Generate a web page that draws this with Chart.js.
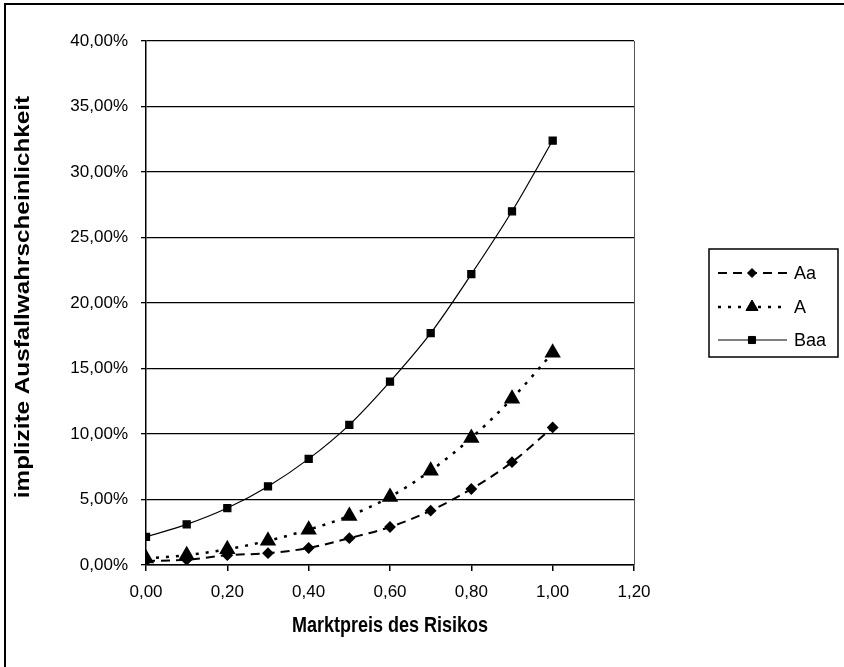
<!DOCTYPE html>
<html lang="de">
<head>
    <meta charset="UTF-8">
    <title>Implizite Ausfallwahrscheinlichkeit</title>
    <script src="https://cdn.jsdelivr.net/npm/chart.js"></script>
    <style>
        html, body { margin: 0; padding: 0; background: #fff; }
        #wrap { width: 844px; height: 667px; }
    </style>
</head>
<body>
<div id="wrap"><canvas id="chart" width="844" height="667"></canvas></div>
<script>
    // Marktpreis des Risikos (x) and implied default probability in % (y)
    var marketPrice = [0, 0.1, 0.2, 0.3, 0.4, 0.5, 0.6, 0.7, 0.8, 0.9, 1.0];
    var seriesNames = ['Aa', 'A', 'Baa'];
    var aaValues  = [0.30, 0.40, 0.75, 0.90, 1.30, 2.05, 2.90, 4.15, 5.80, 7.85, 10.50];
    var aValues   = [0.50, 0.75, 1.20, 1.85, 2.70, 3.75, 5.20, 7.20, 9.70, 12.70, 16.20];
    var baaValues = [2.15, 3.10, 4.35, 6.00, 8.10, 10.70, 14.00, 17.70, 22.20, 27.00, 32.40];
    var xTickLabels = ['0,00', '0,20', '0,40', '0,60', '0,80', '1,00', '1,20'];
    var yTickLabels = ['0,00%', '5,00%', '10,00%', '15,00%', '20,00%', '25,00%', '30,00%', '35,00%', '40,00%'];
    var xTitle = 'Marktpreis des Risikos';
    var yTitle = 'implizite Ausfallwahrscheinlichkeit';

    var FONT = "'Liberation Sans', Arial, sans-serif";

    function points(values) {
        return marketPrice.map(function (x, i) { return { x: x, y: values[i] }; });
    }

    // frame, axis titles and the boxed legend, as Excel drew them
    var excelLook = {
        id: 'excelLook',
        beforeDraw: function (chart) {
            var ctx = chart.ctx;
            ctx.save();
            ctx.fillStyle = '#fff';
            ctx.fillRect(0, 0, chart.width, chart.height);
            ctx.strokeStyle = '#000';
            ctx.lineWidth = 2;
            ctx.strokeRect(5, 4, chart.width + 20, chart.height + 20);
            ctx.restore();
        },
        afterDraw: function (chart) {
            var ctx = chart.ctx;
            var area = chart.chartArea;
            ctx.save();

            // right edge of the plot area
            ctx.strokeStyle = '#555';
            ctx.lineWidth = 1;
            ctx.beginPath();
            ctx.moveTo(area.right + 0.5, area.top);
            ctx.lineTo(area.right + 0.5, area.bottom);
            ctx.stroke();

            // axis titles (slightly stretched like the scanned original)
            ctx.fillStyle = '#000';
            ctx.font = 'bold 18px ' + FONT;
            ctx.textAlign = 'center';
            ctx.textBaseline = 'middle';

            ctx.save();
            ctx.translate((area.left + area.right) / 2, 626);
            ctx.scale(1, 1.25);
            ctx.fillText(xTitle, 0, 0);
            ctx.restore();

            ctx.save();
            ctx.translate(24, (area.top + area.bottom) / 2 - 6);
            ctx.rotate(-Math.PI / 2);
            ctx.scale(1.35, 1.1);
            ctx.fillText(yTitle, 0, 0);
            ctx.restore();

            // legend box
            var bx = 709, by = 249, bw = 129, bh = 108;
            ctx.strokeStyle = '#000';
            ctx.lineWidth = 1.5;
            ctx.strokeRect(bx, by, bw, bh);
            var rows = [273, 307, 340];
            chart.data.datasets.forEach(function (ds, i) {
                var y = rows[i];
                ctx.save();
                ctx.strokeStyle = ds.borderColor;
                ctx.lineWidth = ds.borderWidth;
                ctx.setLineDash(ds.borderDash || []);
                ctx.beginPath();
                ctx.moveTo(718, y);
                ctx.lineTo(787, y);
                ctx.stroke();
                ctx.restore();
                ctx.save();
                ctx.fillStyle = ds.pointBackgroundColor;
                ctx.strokeStyle = ds.pointBorderColor;
                ctx.lineWidth = 1;
                Chart.helpers.drawPoint(ctx, {
                    pointStyle: ds.pointStyle,
                    radius: ds.pointRadius,
                    rotation: 0,
                    borderWidth: 1
                }, 752, y);
                ctx.restore();
                ctx.fillStyle = '#000';
                ctx.font = '18px ' + FONT;
                ctx.textAlign = 'left';
                ctx.fillText(ds.label, 794, y + 1);
            });
            ctx.restore();
        }
    };

    var ctx = document.getElementById('chart').getContext('2d');
    var myChart = new Chart(ctx, {
        type: 'line',
        data: {
            datasets: [{
                label: seriesNames[0],
                data: points(aaValues),
                borderColor: '#000',
                borderWidth: 2,
                borderDash: [9, 6],
                pointStyle: 'rectRot',
                pointRadius: 4.5,
                pointBackgroundColor: '#000',
                pointBorderColor: '#000',
                cubicInterpolationMode: 'monotone'
            }, {
                label: seriesNames[1],
                data: points(aValues),
                borderColor: '#000',
                borderWidth: 2.5,
                borderDash: [3, 7],
                pointStyle: 'triangle',
                pointRadius: 7,
                pointBackgroundColor: '#000',
                pointBorderColor: '#000',
                cubicInterpolationMode: 'monotone'
            }, {
                label: seriesNames[2],
                data: points(baaValues),
                borderColor: '#000',
                borderWidth: 1.2,
                pointStyle: 'rect',
                pointRadius: 5,
                pointBackgroundColor: '#000',
                pointBorderColor: '#000',
                cubicInterpolationMode: 'monotone'
            }]
        },
        options: {
            responsive: false,
            animation: false,
            layout: { padding: { top: 41, right: 210, bottom: 0, left: 0 } },
            plugins: {
                legend: { display: false },
                tooltip: { enabled: false }
            },
            scales: {
                x: {
                    type: 'linear',
                    min: 0,
                    max: 1.2,
                    afterFit: function (scale) { scale.height = 102; },
                    afterBuildTicks: function (scale) {
                        scale.ticks = xTickLabels.map(function (t, i) { return { value: i * 0.2 }; });
                    },
                    ticks: {
                        padding: 11,
                        color: '#000',
                        font: { family: FONT, size: 17 },
                        maxRotation: 0,
                        callback: function (v, i) { return xTickLabels[i]; }
                    },
                    grid: {
                        drawOnChartArea: false,
                        drawTicks: true,
                        tickLength: 6,
                        color: '#000',
                        lineWidth: 1.5
                    },
                    border: { color: '#000', width: 1.5 }
                },
                y: {
                    min: 0,
                    max: 40,
                    afterFit: function (scale) { scale.width = 146; },
                    afterBuildTicks: function (scale) {
                        scale.ticks = yTickLabels.map(function (t, i) { return { value: i * 5 }; });
                    },
                    ticks: {
                        padding: 13,
                        color: '#000',
                        font: { family: FONT, size: 17 },
                        callback: function (v, i) { return yTickLabels[i]; }
                    },
                    grid: {
                        color: '#000',
                        lineWidth: 1.3,
                        tickLength: 5
                    },
                    border: { color: '#000', width: 1.5 }
                }
            }
        },
        plugins: [excelLook]
    });
</script>
</body>
</html>
